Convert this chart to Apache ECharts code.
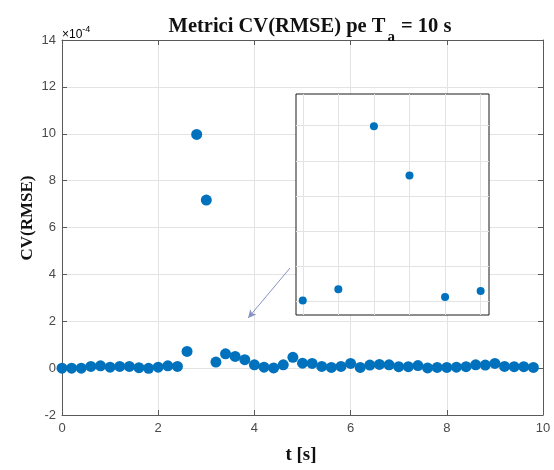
<!DOCTYPE html>
<html>
<head>
<meta charset="utf-8">
<script src="https://cdn.jsdelivr.net/npm/echarts@6/dist/echarts.min.js"></script>
<style>
  html, body { margin: 0; padding: 0; background: #fff; }
  #chart { width: 554px; height: 470px; }
</style>
</head>
<body>
<div id="chart"></div>
<script>
// Sample times [s]
const timeS = [0, 0.2, 0.4, 0.6, 0.8, 1.0, 1.2, 1.4, 1.6, 1.8,
               2.0, 2.2, 2.4, 2.6, 2.8, 3.0, 3.2, 3.4, 3.6, 3.8,
               4.0, 4.2, 4.4, 4.6, 4.8, 5.0, 5.2, 5.4, 5.6, 5.8,
               6.0, 6.2, 6.4, 6.6, 6.8, 7.0, 7.2, 7.4, 7.6, 7.8,
               8.0, 8.2, 8.4, 8.6, 8.8, 9.0, 9.2, 9.4, 9.6, 9.8];
// CV(RMSE) values, in units of 1e-4
const cvRmseE4 = [0, 0, 0, 0.07, 0.10, 0.04, 0.07, 0.07, 0.02, -0.01,
                  0.04, 0.10, 0.07, 0.71, 9.97, 7.17, 0.26, 0.61, 0.50, 0.36,
                  0.14, 0.04, 0.01, 0.14, 0.46, 0.21, 0.20, 0.07, 0.03, 0.07,
                  0.20, 0.03, 0.13, 0.16, 0.14, 0.06, 0.06, 0.11, 0.01, 0.03,
                  0.03, 0.04, 0.06, 0.14, 0.13, 0.20, 0.07, 0.06, 0.06, 0.03];
// Axis ticks
const xTicks = [0, 2, 4, 6, 8, 10];
const yTicks = [-2, 0, 2, 4, 6, 8, 10, 12, 14];
// Zoomed window
const zoomRange = [2.4, 3.4];
const zoomXGrid = [2.4, 2.6, 2.8, 3.0, 3.2, 3.4];
const zoomYGrid = [0, 2, 4, 6, 8, 10];
// Pointer arrow, from [t, value] to [t, value]
const arrowFrom = [4.74, 4.27];
const arrowTo = [3.87, 2.14];

const points = timeS.map((t, i) => [t, cvRmseE4[i]]);
const zoomPoints = points.filter(p => p[0] >= zoomRange[0] - 1e-9 && p[0] <= zoomRange[1] + 1e-9);

const BLUE = '#0072BD';
const AXIS = '#5a5a5a';
const LABEL = '#4a4a4a';
const GRID = '#e3e3e3';
const tickFont = { fontFamily: 'Liberation Sans', fontSize: 13, color: LABEL };

const chart = echarts.init(document.getElementById('chart'), null, { renderer: 'canvas' });

const mainAxisX = (pos, showLabel) => ({
  type: 'value', gridIndex: 0, position: pos,
  min: xTicks[0], max: xTicks[xTicks.length - 1], interval: 2,
  axisLine: { show: true, onZero: false, lineStyle: { color: AXIS, width: 1 } },
  axisTick: { show: true, inside: true, length: 5, lineStyle: { color: AXIS } },
  axisLabel: { show: showLabel, margin: 7, ...tickFont },
  splitLine: { show: showLabel, lineStyle: { color: GRID, width: 1 } }
});
const mainAxisY = (pos, showLabel) => ({
  type: 'value', gridIndex: 0, position: pos,
  min: yTicks[0], max: yTicks[yTicks.length - 1], interval: 2,
  axisLine: { show: true, onZero: false, lineStyle: { color: AXIS, width: 1 } },
  axisTick: { show: true, inside: true, length: 5, lineStyle: { color: AXIS } },
  axisLabel: { show: showLabel, margin: 6, ...tickFont },
  splitLine: { show: showLabel, lineStyle: { color: GRID, width: 1 } }
});
const hiddenAxis = (grid, min, max) => ({
  type: 'value', gridIndex: grid, min: min, max: max,
  axisLine: { show: false }, axisTick: { show: false },
  axisLabel: { show: false }, splitLine: { show: false }
});

chart.setOption({
  animation: false,
  backgroundColor: '#fff',
  title: {
    text: '{t|Metrici CV(RMSE) pe T}{s|a}{t| = 10 s}',
    left: 305, top: 4, textAlign: 'center',
    textStyle: {
      rich: {
        t: { fontFamily: 'Liberation Serif', fontWeight: 'bold', fontSize: 20.5, color: '#111' },
        s: { fontFamily: 'Liberation Serif', fontWeight: 'bold', fontSize: 15, color: '#111', padding: [21, 1, 0, 2] }
      }
    }
  },
  grid: [
    { left: 62, right: 11, top: 40, bottom: 55, containLabel: false },
    { left: 296, top: 94, width: 193, height: 221, show: true,
      backgroundColor: '#fff', borderColor: '#1a1a1a', borderWidth: 1, z: 5 }
  ],
  xAxis: [
    mainAxisX('bottom', true),
    mainAxisX('top', false),
    Object.assign(hiddenAxis(1, 2.362, 3.447), { z: 5 })
  ],
  yAxis: [
    mainAxisY('left', true),
    mainAxisY('right', false),
    Object.assign(hiddenAxis(1, -0.76, 11.8), { z: 5 })
  ],
  graphic: [
    {
      type: 'text', left: 62, top: 25, z: 10,
      style: {
        text: '{m|×10}{e|-4}',
        rich: {
          m: { fontFamily: 'Liberation Sans', fontSize: 12, color: LABEL, padding: [4, 0, 0, 0] },
          e: { fontFamily: 'Liberation Sans', fontSize: 9, color: LABEL, padding: [0, 0, 6, 0] }
        }
      }
    },
    {
      type: 'text', x: 28, y: 218, rotation: Math.PI / 2, z: 10,
      style: {
        text: 'CV(RMSE)', align: 'center', verticalAlign: 'middle',
        fontFamily: 'Liberation Serif', fontWeight: 'bold', fontSize: 17, fill: '#111'
      }
    },
    {
      type: 'text', x: 301, y: 455, z: 10,
      style: {
        text: 't [s]', align: 'center', verticalAlign: 'middle',
        fontFamily: 'Liberation Serif', fontWeight: 'bold', fontSize: 19, fill: '#111'
      }
    }
  ],
  series: [
    {
      // pointer arrow toward the zoomed window
      type: 'scatter', xAxisIndex: 0, yAxisIndex: 0, data: [], z: 4,
      markLine: {
        silent: true, animation: false,
        symbol: ['none', 'arrow'], symbolSize: [6, 8],
        label: { show: false },
        lineStyle: { color: '#8593c0', width: 1, type: 'solid' },
        data: [[{ coord: arrowFrom }, { coord: arrowTo }]]
      }
    },
    {
      name: 'CV(RMSE)', type: 'scatter', xAxisIndex: 0, yAxisIndex: 0,
      data: points, symbol: 'circle', symbolSize: 11, z: 3,
      itemStyle: { color: BLUE, opacity: 1 }
    },
    {
      // grid of the zoomed window
      type: 'scatter', xAxisIndex: 2, yAxisIndex: 2, data: [], z: 6,
      markLine: {
        silent: true, animation: false, symbol: ['none', 'none'],
        label: { show: false },
        lineStyle: { color: GRID, width: 1, type: 'solid' },
        data: zoomXGrid.map(v => ({ xAxis: v })).concat(zoomYGrid.map(v => ({ yAxis: v })))
      }
    },
    {
      name: 'CV(RMSE) zoom', type: 'scatter', xAxisIndex: 2, yAxisIndex: 2,
      data: zoomPoints, symbol: 'circle', symbolSize: 8, z: 7,
      itemStyle: { color: BLUE, opacity: 1 }
    }
  ]
});
</script>
</body>
</html>
